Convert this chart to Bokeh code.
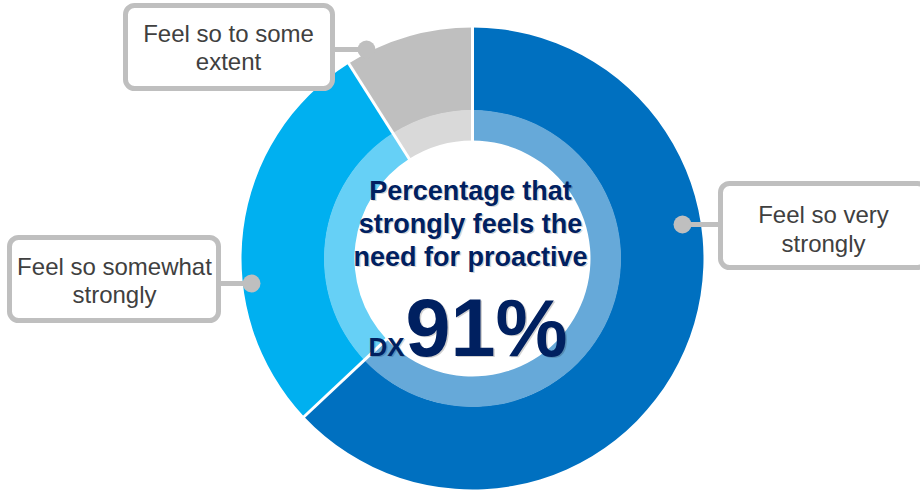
import numpy as np
from bokeh.plotting import figure
from bokeh.models import Range1d, BoxAnnotation
from bokeh.core.properties import value
from bokeh.embed import file_html
from bokeh.resources import INLINE

# ---- data ----
categories = ["Feel so very strongly", "Feel so somewhat strongly", "Feel so to some extent"]
values = [63, 28, 9]
outer_colors = ["#0070C0", "#00B0F0", "#BFBFBF"]
inner_colors = ["#66A9D9", "#66D0F6", "#D9D9D9"]
label_lines = [["Feel so very", "strongly"], ["Feel so somewhat", "strongly"], ["Feel so to some", "extent"]]
center_lines = ["Percentage that", "strongly feels the", "need for proactive"]
headline_value = "91%"
headline_suffix = "DX"

W, H = 920, 492
def Y(y_img):
    return H - y_img

def YB(base_img, fs):
    # compensate renderer baseline offset
    return H - (base_img - 0.37 * fs)

p = figure(width=W, height=H, output_backend="svg", toolbar_location=None,
           x_range=Range1d(0, W), y_range=Range1d(0, H), min_border=0)
p.axis.visible = False
p.grid.visible = False
p.outline_line_color = None
p.background_fill_color = "white"
p.border_fill_color = "white"

cx, cy = 472, Y(258)
r_out, r_mid, r_in = 231, 148, 118

vals = np.array(values, dtype=float)
cum = np.concatenate([[0], np.cumsum(vals)]) / vals.sum()
starts = np.pi / 2 - 2 * np.pi * cum[:-1]
ends = np.pi / 2 - 2 * np.pi * cum[1:]

p.annular_wedge(x=[cx] * 3, y=[cy] * 3, inner_radius=r_mid, outer_radius=r_out,
                start_angle=list(starts), end_angle=list(ends), direction="clock",
                fill_color=outer_colors, line_color=None)
p.annular_wedge(x=[cx] * 3, y=[cy] * 3, inner_radius=r_in, outer_radius=r_mid + 0.5,
                start_angle=list(starts), end_angle=list(ends), direction="clock",
                fill_color=inner_colors, line_color=None)

# white separators
sep = np.pi / 2 - 2 * np.pi * cum[:-1]
p.segment(x0=list(cx + (r_in - 1) * np.cos(sep)), y0=list(cy + (r_in - 1) * np.sin(sep)),
          x1=list(cx + (r_out + 2) * np.cos(sep)), y1=list(cy + (r_out + 2) * np.sin(sep)),
          line_color="white", line_width=3)

# callouts: (box left, right, top, bottom in image px), dot position, text center & baselines
callouts = [
    dict(box=(720, 926, 183, 267), dot=(682, 224), tx=823, base=(223, 252)),
    dict(box=(9, 218, 237, 320), dot=(251, 283), tx=114, base=(275, 303)),
    dict(box=(125, 332, 5, 88), dot=(366, 49), tx=228, base=(42, 70)),
]
grey = "#BFBFBF"
for c, lines in zip(callouts, label_lines):
    l, r, t, b = c["box"]
    dx, dy = c["dot"]
    edge = r if dx > r else l
    p.segment(x0=[edge], y0=[Y(dy)], x1=[dx], y1=[Y(dy)], line_color=grey, line_width=5)
    p.scatter(x=[dx], y=[Y(dy)], size=18, marker="circle", fill_color=grey, line_color=None)
    box = BoxAnnotation(left=l, right=r, top=Y(t), bottom=Y(b), border_radius=9,
                        fill_color="white", fill_alpha=1.0, line_color=grey, line_width=5,
                        line_alpha=1.0)
    p.add_layout(box)
    tr = p.text(x=[c["tx"]] * 2, y=[YB(v, 24) for v in c["base"]], text=lines,
                text_font=value("Liberation Sans"), text_font_size="24px",
                text_align="center", text_baseline="alphabetic", text_color="#404040")
    tr.level = "overlay"

navy = "#002060"
bases = [200, 233, 266]
for off, col, alpha in [((1.5, 1.5), "#000000", 0.18), ((0, 0), navy, 1.0)]:
    ox, oy = off
    p.text(x=[470 + ox] * 3, y=[YB(b + oy, 27) for b in bases], text=center_lines,
           text_font=value("Liberation Sans"), text_font_style="bold", text_font_size="27px",
           text_align="center", text_baseline="alphabetic", text_color=col, text_alpha=alpha)
    p.text(x=[404 + ox], y=[YB(356 + oy, 26)], text=[headline_suffix],
           text_font=value("Liberation Sans"), text_font_style="bold", text_font_size="26px",
           text_align="right", text_baseline="alphabetic", text_color=col, text_alpha=alpha)
    p.text(x=[405 + ox], y=[YB(357 + oy, 81)], text=[headline_value],
           text_font=value("Liberation Sans"), text_font_style="bold", text_font_size="81px",
           text_align="left", text_baseline="alphabetic", text_color=col, text_alpha=alpha)

open("out.html", "w").write(file_html(p, INLINE))
